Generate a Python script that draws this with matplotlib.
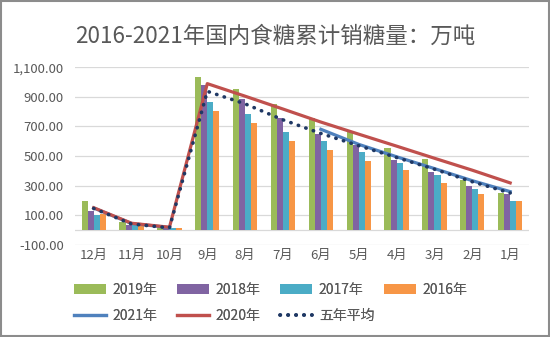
import matplotlib.pyplot as plt
import numpy as np
from matplotlib.patches import Rectangle
from matplotlib.ticker import FuncFormatter

plt.rcParams["font.family"] = ["Noto Sans CJK SC", "DejaVu Sans"]

months = ["12月", "11月", "10月", "9月", "8月", "7月", "6月", "5月", "4月", "3月", "2月", "1月"]

sales_2019 = [196, 55, 12, 1037, 955, 854, 759, 662, 557, 483, 336, 250]
sales_2018 = [130, 33, 10, 981, 884, 755, 650, 574, 472, 392, 299, 240]
sales_2017 = [103, 30, 10, 868, 784, 662, 601, 528, 450, 370, 275, 193]
sales_2016 = [105, 28, 12, 807, 725, 599, 540, 465, 404, 320, 246, 194]

sales_2021 = [148, 43, 16, np.nan, np.nan, np.nan, 681, 579, 495, 415, 333, 259]
sales_2020 = [150, 45, 18, 990, 905, 818, 730, 648, 567, 485, 404, 318]
five_year_avg = [145, 40, 14, 938, 853, 745, 653, 570, 490, 411, 326, 250]

y_ticks = [-100, 100, 300, 500, 700, 900, 1100]

TEXT = "#595959"
GRID = "#D9D9D9"


def main() -> None:
    fig = plt.figure(figsize=(5.5, 3.37), dpi=100)
    ax = fig.add_axes([0.136, 0.274, 0.826, 0.526])

    x = np.arange(len(months))
    w = 0.16
    bars = [
        (sales_2019, "#9BBB59", "2019年"),
        (sales_2018, "#8064A2", "2018年"),
        (sales_2017, "#4BACC6", "2017年"),
        (sales_2016, "#F79646", "2016年"),
    ]
    bar_handles = []
    for i, (vals, color, label) in enumerate(bars):
        h = ax.bar(x + (i - 1.5) * w, vals, width=w, color=color, label=label, zorder=2)
        bar_handles.append(h)

    (l21,) = ax.plot(x, sales_2021, color="#4F81BD", linewidth=2.3, label="2021年", zorder=3)
    (l20,) = ax.plot(x, sales_2020, color="#C0504D", linewidth=2.3, label="2020年", zorder=4)
    (lavg,) = ax.plot(x, five_year_avg, color="#1F3864", linewidth=2.6, label="五年平均",
                      linestyle=(0, (0.1, 2.1)), dash_capstyle="round", zorder=5)

    ax.set_xlim(-0.5, len(months) - 0.5)
    ax.set_ylim(-100, 1100)
    ax.set_yticks(y_ticks)
    ax.yaxis.set_major_formatter(FuncFormatter(lambda v, _: f"{v:,.2f}"))
    ax.set_xticks(x)
    ax.set_xticklabels(months)
    ax.tick_params(axis="y", length=0, pad=8, labelsize=9.5, labelcolor=TEXT)
    ax.tick_params(axis="x", length=0, pad=3, labelsize=9.5, labelcolor=TEXT)
    ax.grid(axis="y", color=GRID, linewidth=0.9, zorder=0)
    ax.axhline(0, color=GRID, linewidth=0.9, zorder=1)
    ax.set_axisbelow(True)
    for side in ["top", "right", "left", "bottom"]:
        ax.spines[side].set_visible(False)

    fig.suptitle("2016-2021年国内食糖累计销糖量：万吨", x=0.5, y=0.925, fontsize=16.2, color=TEXT)

    # one legend per column so the columns sit on an even grid, like the original
    columns = [
        ([bar_handles[0], l21], ["2019年", "2021年"]),
        ([bar_handles[1], l20], ["2018年", "2020年"]),
        ([bar_handles[2], lavg], ["2017年", "五年平均"]),
        ([bar_handles[3]], ["2016年"]),
    ]
    col_left_px = [74, 177, 280, 384]
    for (hs, ls), left in zip(columns, col_left_px):
        leg = fig.legend(hs, ls, loc="upper left", bbox_to_anchor=(left / 550, 1 - 283 / 337),
                         frameon=False, fontsize=10, labelcolor=TEXT, handlelength=2.3,
                         handleheight=0.75, handletextpad=0.5, labelspacing=0.85,
                         borderpad=0, borderaxespad=0)
        fig.add_artist(leg)

    fig.patches.append(Rectangle((0.001, 0.002), 0.997, 0.995, transform=fig.transFigure,
                                 fill=False, edgecolor="#8C8C8C", linewidth=1.5))

    fig.savefig("out.png", dpi=100)
    plt.close(fig)


if __name__ == "__main__":
    main()
